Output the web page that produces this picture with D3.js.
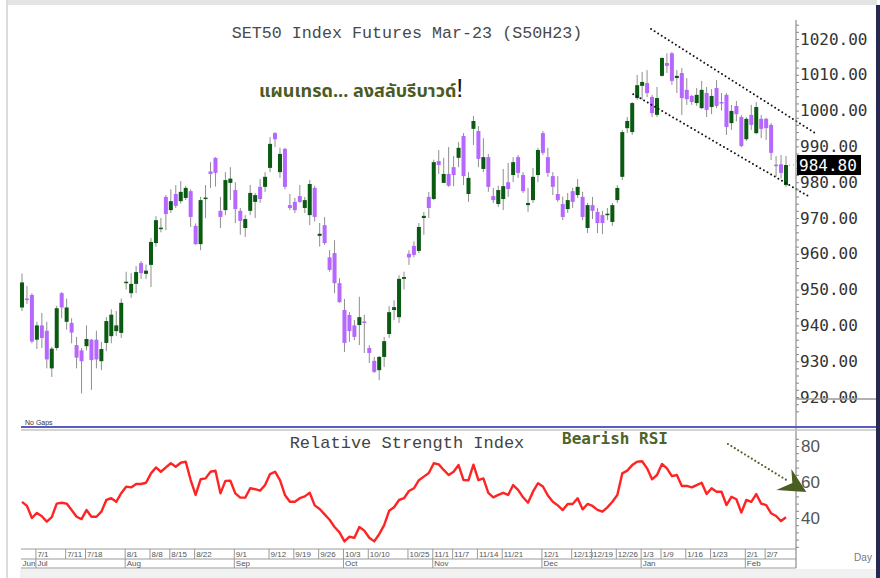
<!DOCTYPE html>
<html>
<head>
<meta charset="utf-8">
<script src="https://cdn.jsdelivr.net/npm/d3@7"></script>
<style>
  body { margin: 0; background: #fff; }
  svg { display: block; }
</style>
</head>
<body>
<div id="chart"></div>
<script>
// trading calendar (weekdays minus exchange holidays)
var FIRST_DAY = '2022-06-28', LAST_DAY = '2023-02-13';
var HOLIDAYS = ['2022-07-13', '2022-07-28', '2022-07-29', '2022-08-12', '2022-10-13',
                '2022-10-14', '2022-10-24', '2022-12-05', '2022-12-12', '2023-01-02'];

// daily OHLC, S50H23
var OPEN = [945, 947.5, 948.5, 936, 940, 938.5, 928, 933.7, 949, 941,
  940.7, 934.5, 933, 934.2, 936, 936, 930, 935.1, 937, 938.4,
  937.9, 952, 949, 951.6, 957.4, 954.4, 956.9, 963, 967.1, 975.9,
  972.2, 976.7, 974.7, 975.6, 977.5, 967.8, 962.7, 975.5, 983, 986.8,
  972, 972.2, 979.8, 977.8, 972, 967.2, 972, 974.5, 978.7, 978.7,
  984, 993.7, 982.8, 989.3, 973.6, 974.5, 976.1, 972.8, 970.8, 978.4,
  965, 968, 959, 960.2, 951.8, 944.3, 942.9, 940, 940.1, 941.1,
  933.7, 930.1, 927.5, 931.2, 937.6, 944.3, 942.3, 953, 960, 962.2,
  960.8, 970, 975.9, 975.3, 985.9, 979.8, 982.3, 984.2, 986.8, 992.9,
  976.7, 994.9, 994.3, 983.7, 987, 976.1, 973.9, 975.3, 980, 982,
  987, 982, 973.6, 975, 982, 993.7, 987, 981.7, 976.7, 973.9,
  972.5, 977.5, 976.4, 975.9, 967.2, 973.6, 971.7, 970.8, 971, 968.9,
  975, 981.5, 995.1, 994, 1003.5, 1006.9, 1007.7, 1003.8, 998.8, 1009.7,
  1013.3, 1016, 1009.1, 1010.5, 1005.8, 1004.1, 1002.1, 1000.7, 1004.9, 1001,
  1006.3, 1002.4, 1004.4, 996.5, 1001.3, 998.2, 992, 998.8, 993.7, 997.7,
  997.7, 996, 984.9, 985, 979.2];
var HIGH = [954.5, 951, 949, 941, 943.5, 941, 934, 945.5, 949.3, 947.5,
  942, 936.8, 933.7, 940, 936.2, 938.5, 935.4, 942.3, 944.5, 944,
  947.5, 955, 954.6, 956.6, 958, 957, 964.4, 970.5, 970, 976.4,
  978, 979.2, 980.3, 979, 978, 968.5, 975.9, 979.2, 985.6, 987,
  975.9, 982.8, 984.2, 980, 972.8, 970.8, 979.2, 977, 980.9, 982.8,
  992.6, 994, 989.6, 989.6, 976.7, 975.6, 979.2, 975.9, 980.6, 979,
  968.6, 970.3, 961, 963.8, 953.2, 947.4, 943.7, 941.5, 948, 943,
  934.5, 931.2, 931.5, 936.8, 945.4, 947, 954, 955, 961, 963.5,
  968.6, 971.7, 977.3, 986.3, 989, 986.8, 989.8, 987.3, 991.2, 993.7,
  982.8, 998.5, 995.7, 992.3, 987.9, 978.4, 979, 983.7, 985.4, 987,
  987.6, 982.8, 978.4, 984, 989.6, 994.3, 989.6, 982.8, 981.7, 976,
  977, 978.4, 980.9, 977.3, 974.2, 975.9, 972.8, 972, 972.8, 974.2,
  979.2, 994.6, 998.2, 1002.4, 1010, 1010.8, 1011.3, 1004.4, 1006.6, 1014.9,
  1016, 1016.4, 1011.3, 1011.9, 1009.1, 1004.4, 1006.3, 1008.3, 1006.6, 1006,
  1008.5, 1004.9, 1004.9, 1001.6, 1002.7, 998.8, 998.2, 1001.6, 1002.4, 998.8,
  998, 996.5, 987.3, 987.6, 987.3];
var LOW = [944, 946, 935, 933.4, 933.7, 928, 925.6, 933, 942, 938.8,
  935, 928, 921, 933, 922, 928, 927.5, 932.8, 935, 937,
  936.5, 950, 947.7, 949, 953, 953, 950.7, 962, 966, 966.6,
  971.4, 972.8, 974, 975, 967.5, 962.5, 961, 970, 978.4, 978.8,
  967.2, 970.8, 975, 968.6, 965.3, 964.7, 970.8, 970, 974.2, 977.3,
  982.8, 989.8, 981.2, 978, 972.2, 971.4, 974.2, 971.4, 968, 969,
  962, 962.5, 955, 949, 946.3, 932.6, 935.4, 935.9, 934.5, 932.3,
  929.5, 926.7, 924.7, 928.4, 936.5, 941.5, 940.7, 950, 956.9, 959,
  960.2, 965.3, 970, 975, 982.3, 979.8, 978.7, 978.9, 984.2, 979.2,
  974.5, 990.4, 984.2, 982.8, 977.3, 974.2, 973.1, 972.2, 975.9, 980,
  981.2, 977, 971.7, 974.2, 980, 987.6, 981.5, 976.4, 974.5, 969.4,
  971.4, 972.8, 975.6, 969.4, 965.8, 969.7, 965.8, 965.5, 969.4, 967.8,
  974.2, 980.6, 993.7, 993.2, 1003, 1003, 1003.8, 998.2, 998.2, 1009.5,
  1010.5, 1007.2, 1004.9, 998.8, 1001.6, 1001.6, 1001.3, 1000.4, 998.2, 999,
  1000.7, 1000, 993.2, 994.6, 997, 989.8, 991.5, 994.6, 993.4, 992.3,
  991.8, 986.2, 981.5, 981, 978.7];
var CLOSE = [952, 947.3, 935.5, 940, 936.5, 930.5, 933.5, 944.8, 945, 945,
  938, 931, 930, 936.2, 930.3, 930.5, 933.4, 941.2, 943, 940,
  946.3, 952.2, 951.6, 954.9, 954.6, 955.3, 963.3, 969.4, 967.3, 971.1,
  974.7, 973.4, 977.3, 978.4, 970.3, 962.7, 975, 975.7, 982.3, 982.6,
  970.3, 980.6, 981, 972.5, 969.2, 969.7, 977, 976.4, 975.3, 981.5,
  990.7, 992, 987.9, 978.7, 972.8, 972.2, 974.5, 975, 979.5, 970.3,
  965.6, 963, 955.5, 951.8, 946.5, 935.1, 938.4, 936.8, 942.3, 940.9,
  932.3, 927, 931.2, 935.6, 943.7, 945.1, 953, 953.5, 959, 959.7,
  967.5, 970.6, 972.8, 985.6, 984.8, 982.3, 979, 982, 989.6, 981.7,
  981.2, 997.1, 986.5, 987, 978.7, 975, 977.8, 978.9, 978.1, 985.6,
  982.6, 977.5, 974.2, 981.5, 989, 988.2, 982.6, 978.7, 975, 970.3,
  975, 974.5, 978.7, 970.3, 973.6, 972, 968.6, 968.6, 971.2, 973.6,
  978.4, 994, 997.1, 1002.1, 1007.1, 1008, 1004.9, 999.3, 1003.5, 1014.7,
  1012.5, 1008.3, 1009.7, 1003.5, 1003.2, 1002.4, 1004.4, 1005.8, 1000.2, 1004.1,
  1001.3, 1002, 995.4, 999.9, 999, 990.1, 997.7, 996, 1001, 994.9,
  995.1, 988.2, 984.7, 982.6, 984.8];

// 14-day RSI as plotted
var RSI = [49, 46.7, 40, 42.8, 41, 38, 40.5, 48, 48.5, 48,
  44.4, 40.7, 39.4, 44.4, 40.7, 40.7, 43.5, 50, 51, 49,
  53.8, 57.4, 57, 58.9, 58.9, 59.6, 64.8, 68.1, 65.7, 68.1,
  70.4, 68.5, 70.7, 71.3, 61.1, 52.8, 61.5, 62, 65.7, 66.3,
  53.7, 60.6, 60.7, 53.7, 51.3, 51.3, 56.5, 56, 55.2, 58.3,
  64.4, 65.7, 61.1, 52.8, 49, 49, 51, 52, 54, 47,
  45, 42, 39, 35, 32, 27, 29.6, 29, 35, 33,
  29, 27, 31, 36, 44, 46, 50, 51, 55, 56.5,
  61, 63, 65, 70.4, 69.8, 66.7, 63.9, 65.7, 69.4, 61.1,
  61, 69.6, 61, 62, 54, 51.5, 52.8, 54, 52.8, 58.3,
  55.6, 51.5, 48.5, 54.6, 59.3, 57.5, 52.5, 49, 47, 44.4,
  47.8, 47.8, 51, 44.8, 47.8, 46.7, 44.5, 43.5, 45.9, 49,
  52.8, 64.8, 66.3, 69.4, 71.3, 71.5, 67.6, 61.5, 63.9, 70,
  67.6, 63.3, 63.9, 57.8, 57.8, 57, 58.3, 59.6, 53.3, 56.5,
  54.6, 54.6, 47.2, 51.8, 50.4, 43, 50, 49, 53.3, 48,
  47.2, 42.6, 41.1, 38.3, 40.4];

var PRICE_TICKS = [920, 930, 940, 950, 960, 970, 980, 990, 1000, 1010, 1020];
var RSI_TICKS = [40, 60, 80];
var LAST_PRICE = 984.80;
var DAY_TICKS = ['2022-07-01', '2022-07-11', '2022-07-18', '2022-08-01', '2022-08-08', '2022-08-15',
  '2022-08-22', '2022-09-01', '2022-09-12', '2022-09-19', '2022-09-26', '2022-10-03', '2022-10-10',
  '2022-10-25', '2022-11-01', '2022-11-07', '2022-11-14', '2022-11-21', '2022-12-01', '2022-12-13',
  '2022-12-19', '2022-12-26', '2023-01-03', '2023-01-09', '2023-01-16', '2023-01-23', '2023-02-01',
  '2023-02-07'];
var MONTH_TICKS = ['2022-06-28', '2022-07-01', '2022-08-01', '2022-09-01', '2022-10-03', '2022-11-01',
  '2022-12-01', '2023-01-03', '2023-02-01'];

// drawn channel and arrow, as [bar index, value]
var UPPER_CHANNEL = [[126.8, 1022.8], [160.1, 993.5]];
var LOWER_CHANNEL = [[123.2, 1004.6], [158.5, 976.1]];
var RSI_ARROW = [[142.3, 81.1], [154.6, 60.2]];
var RSI_ARROW_TIP = [158.1, 54.4];

var TITLE = 'SET50 Index Futures Mar-23 (S50H23)';
var NOTE = 'แผนเทรด... ลงสลับรีบาวด์';
var RSI_TITLE = 'Relative Strength Index';
var RSI_NOTE = 'Bearish RSI';

var parse = d3.timeParse('%Y-%m-%d'), iso = d3.timeFormat('%Y-%m-%d');
var days = d3.timeDay.range(parse(FIRST_DAY), d3.timeDay.offset(parse(LAST_DAY), 1))
  .filter(function(d) { return d.getDay() > 0 && d.getDay() < 6 && HOLIDAYS.indexOf(iso(d)) < 0; })
  .map(iso);

var bars = days.map(function(d, i) {
  return {date: d, i: i, o: OPEN[i], h: HIGH[i], l: LOW[i], c: CLOSE[i]};
});

var W = 880, H = 578;
var mono = '"Liberation Mono", "Courier New", monospace';
var mono2 = '"DejaVu Sans Mono", monospace';
var sans = '"Liberation Sans", Arial, sans-serif';

var svg = d3.select('#chart').append('svg').attr('width', W).attr('height', H);

var x = d3.scaleLinear().domain([0, days.length - 1]).range([22, 786]);
var y = d3.scaleLinear().domain([920, 1020]).range([397, 39]);
var yR = d3.scaleLinear().domain([40, 80]).range([518, 446]);
var axisX = 796;

// frame
svg.append('rect').attr('x', 7).attr('y', 0).attr('width', 870).attr('height', 5).attr('fill', '#e4e4e4');
svg.append('rect').attr('x', 6).attr('y', 0).attr('width', 2).attr('height', H).attr('fill', '#dcdcdc');
svg.append('rect').attr('x', 20).attr('y', 569).attr('width', 856).attr('height', 9).attr('fill', '#f1f1f1');
svg.append('rect').attr('x', 876).attr('y', 5).attr('width', 4).attr('height', H).attr('fill', '#27284f');

// price pane
svg.append('text').attr('x', 407).attr('y', 38).attr('text-anchor', 'middle')
  .style('font-family', mono).style('font-size', '16.7px').attr('fill', '#4a4a4a').text(TITLE);

var note = svg.append('text').attr('x', 259).attr('y', 97)
  .style('font-family', '"Noto Sans Thai", Tahoma, Loma, Garuda, sans-serif')
  .style('font-size', '18px').style('font-weight', 'bold').attr('fill', '#4a5c22');
note.append('tspan').text(NOTE);
note.append('tspan').attr('fill', '#111').style('font-weight', 'normal').style('font-size', '25px')
  .style('font-family', sans).text('!');

// candles
var candle = svg.append('g').selectAll('g').data(bars).enter().append('g');
candle.append('line')
  .attr('x1', function(d) { return x(d.i); }).attr('x2', function(d) { return x(d.i); })
  .attr('y1', function(d) { return y(d.h); }).attr('y2', function(d) { return y(d.l); })
  .attr('stroke', '#8f8f8f').attr('stroke-width', 1);
candle.append('rect')
  .attr('x', function(d) { return x(d.i) - 2; })
  .attr('width', 4)
  .attr('y', function(d) { return y(Math.max(d.o, d.c)); })
  .attr('height', function(d) { return Math.max(1.5, Math.abs(y(d.o) - y(d.c))); })
  .attr('fill', function(d) { return d.c >= d.o ? '#0b5a12' : '#b567ff'; });

// trend channel
var line = d3.line().x(function(d) { return x(d[0]); }).y(function(d) { return y(d[1]); });
[UPPER_CHANNEL, LOWER_CHANNEL].forEach(function(pts) {
  svg.append('path').attr('d', line(pts)).attr('fill', 'none').attr('stroke', '#111')
    .attr('stroke-width', 2).attr('stroke-linecap', 'round').attr('stroke-dasharray', '0,4.2');
});

// price axis
svg.append('line').attr('x1', axisX).attr('x2', axisX).attr('y1', 20).attr('y2', 568)
  .attr('stroke', '#777').attr('stroke-width', 1);
var minor = svg.append('g').attr('transform', 'translate(' + axisX + ',0)')
  .call(d3.axisRight(y).tickValues(d3.range(916, 1026, 2)).tickSize(3).tickFormat(''));
minor.select('.domain').remove();
minor.selectAll('line').attr('stroke', '#888');
var pAxis = svg.append('g').attr('transform', 'translate(' + axisX + ',0)')
  .call(d3.axisRight(y).tickValues(PRICE_TICKS).tickSize(0).tickPadding(4).tickFormat(d3.format('.2f')));
pAxis.select('.domain').remove();
pAxis.selectAll('text').style('font-family', mono2).style('font-size', '16px').attr('fill', '#333');
svg.append('line').attr('x1', axisX).attr('x2', 876).attr('y1', 399).attr('y2', 399)
  .attr('stroke', '#999').attr('stroke-width', 1.5);

// last price marker
svg.append('line').attr('x1', x(days.length - 1) + 3).attr('x2', axisX)
  .attr('y1', y(LAST_PRICE)).attr('y2', y(LAST_PRICE))
  .attr('stroke', '#999').attr('stroke-dasharray', '1,3');
svg.append('rect').attr('x', axisX + 1).attr('y', y(LAST_PRICE) - 10).attr('width', 64).attr('height', 20)
  .attr('fill', '#000');
svg.append('text').attr('x', axisX + 3).attr('y', y(LAST_PRICE)).attr('dy', '0.35em')
  .style('font-family', mono2).style('font-size', '16px').attr('fill', '#fff')
  .text(d3.format('.2f')(LAST_PRICE));

// pane separator
svg.append('text').attr('x', 25).attr('y', 425).style('font-family', sans).style('font-size', '7px')
  .attr('fill', '#333').text('No Gaps');
svg.append('line').attr('x1', 21).attr('x2', 876).attr('y1', 427).attr('y2', 427)
  .attr('stroke', '#5b5bc6').attr('stroke-width', 2);
svg.append('line').attr('x1', 21).attr('x2', 876).attr('y1', 430).attr('y2', 430)
  .attr('stroke', '#c4c4c4').attr('stroke-width', 1.5);

// RSI pane
svg.append('text').attr('x', 407).attr('y', 448).attr('text-anchor', 'middle')
  .style('font-family', mono).style('font-size', '17px').attr('fill', '#444').text(RSI_TITLE);
svg.append('text').attr('x', 562).attr('y', 444)
  .style('font-family', mono2).style('font-size', '16px').style('font-weight', 'bold')
  .attr('fill', '#4f6228').text(RSI_NOTE);

svg.append('path').datum(RSI)
  .attr('d', d3.line().x(function(d, i) { return x(i); }).y(function(d) { return yR(d); }))
  .attr('fill', 'none').attr('stroke', '#ff2424').attr('stroke-width', 2.4).attr('stroke-linejoin', 'round');

var minorR = svg.append('g').attr('transform', 'translate(' + axisX + ',0)')
  .call(d3.axisRight(yR).tickValues(d3.range(24, 88, 4)).tickSize(3).tickFormat(''));
minorR.select('.domain').remove();
minorR.selectAll('line').attr('stroke', '#888');
var rAxis = svg.append('g').attr('transform', 'translate(' + axisX + ',0)')
  .call(d3.axisRight(yR).tickValues(RSI_TICKS).tickSize(0).tickPadding(5));
rAxis.select('.domain').remove();
rAxis.selectAll('text').style('font-family', sans).style('font-size', '17px')
  .style('font-stretch', 'condensed').attr('fill', '#555');

// bearish arrow
var arrowPts = RSI_ARROW.map(function(d) { return [x(d[0]), yR(d[1])]; });
svg.append('path').attr('d', d3.line()(arrowPts)).attr('fill', 'none').attr('stroke', '#4f6228')
  .attr('stroke-width', 2.2).attr('stroke-linecap', 'round').attr('stroke-dasharray', '0,4');
var tx = x(RSI_ARROW_TIP[0]), ty = yR(RSI_ARROW_TIP[1]);
svg.append('path')
  .attr('d', 'M' + tx + ',' + ty + 'L' + (tx - 15) + ',' + (ty - 23) + 'L' + (tx - 14) + ',' + (ty - 9) +
    'L' + (tx - 30) + ',' + (ty - 2) + 'Z')
  .attr('fill', '#4a5e22');

// date axis
var axisCol = '#9a9a9a';
[549, 559, 568].forEach(function(yy) {
  svg.append('line').attr('x1', 21).attr('x2', axisX).attr('y1', yy).attr('y2', yy)
    .attr('stroke', axisCol).attr('stroke-width', 1);
});
var dayFmt = d3.timeFormat('%-m/%-d'), monFmt = d3.timeFormat('%b');
var dayTicks = svg.append('g').selectAll('g').data(DAY_TICKS).enter().append('g')
  .attr('transform', function(d) { return 'translate(' + (x(days.indexOf(d)) - 1) + ',0)'; });
dayTicks.append('line').attr('y1', 549).attr('y2', 559).attr('stroke', axisCol);
dayTicks.append('text').attr('x', 1.5).attr('y', 557).style('font-family', sans).style('font-size', '8px')
  .attr('fill', '#555').text(function(d) { return dayFmt(parse(d)); });
var monTicks = svg.append('g').selectAll('g').data(MONTH_TICKS).enter().append('g')
  .attr('transform', function(d) { return 'translate(' + (x(days.indexOf(d)) - 1) + ',0)'; });
monTicks.append('line').attr('y1', 559).attr('y2', 568)
  .attr('stroke', function(d, i) { return i === 0 ? 'none' : axisCol; });
monTicks.append('text').attr('x', 1.5).attr('y', 566).style('font-family', sans).style('font-size', '8px')
  .attr('fill', '#555').text(function(d) { return monFmt(parse(d)); });
svg.append('text').attr('x', 863).attr('y', 561).attr('text-anchor', 'middle')
  .style('font-family', sans).style('font-size', '10px').attr('fill', '#777').text('Day');
</script>
</body>
</html>
